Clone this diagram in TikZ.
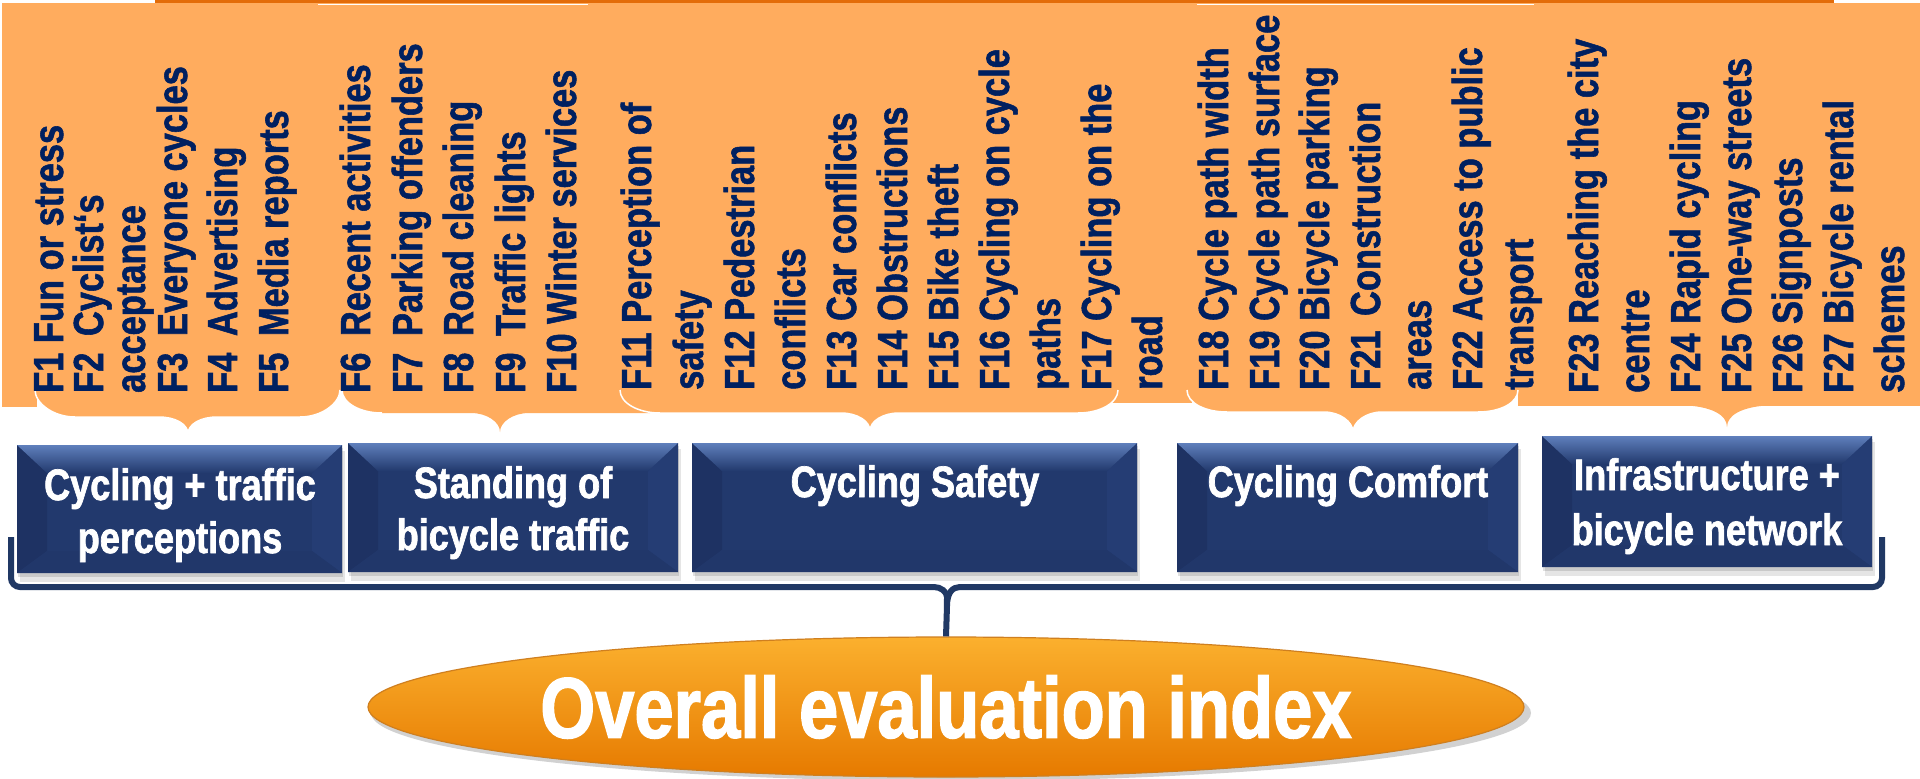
\documentclass[tikz,border=0pt]{standalone}
\usepackage{fontspec}
\newfontfamily\nar{Liberation Sans Bold}[FakeStretch=0.82, FakeBold=1.3]
\newfontfamily\narb{Liberation Sans Bold}[FakeStretch=0.82, FakeBold=1.6]
\usetikzlibrary{shapes.geometric,fit}
\definecolor{orfill}{HTML}{FFAC5E}
\definecolor{ortop}{HTML}{E36C09}
\definecolor{navytext}{HTML}{002060}
\definecolor{boxmain}{HTML}{22396D}
\definecolor{boxtop}{HTML}{5F7FBC}
\definecolor{boxleft}{HTML}{1E3263}
\definecolor{boxright}{HTML}{253D74}
\definecolor{boxbot}{HTML}{21376A}
\definecolor{bracecol}{HTML}{203864}
\definecolor{elltop}{HTML}{FBB02E}
\definecolor{ellmid}{HTML}{F29414}
\definecolor{ellbot}{HTML}{E67A00}
\definecolor{elledge}{HTML}{CF7F1F}
% orange brace: x1 x2 xt ytop ysh ytip
\newcommand\obrace[6]{%
  \path[fill=orfill, draw=white, line width=1.5]
  (#1,#4) .. controls (#1,#4+13) and (#1+18,#5) .. (#1+40,#5)
  -- (#3-29,#5) .. controls (#3-13,#5) and (#3,#6-10) .. (#3,#6)
  .. controls (#3,#6-10) and (#3+13,#5) .. (#3+29,#5)
  -- (#2-40,#5) .. controls (#2-18,#5) and (#2,#4+13) .. (#2,#4);}
% bevelled box: name x1 y1 x2 y2
\newcommand\bevbox[5]{%
  \fill[black,opacity=.10] (#2+3,#3+6) rectangle (#4+3,#5+9);
  \fill[black,opacity=.12] (#2+1,#3+3) rectangle (#4+1,#5+4);
  \node[fit={(#2,#3) (#4,#5)}, inner sep=0, fill=boxmain] (#1) {};
  \fill[boxleft] (#2,#3) -- (#2+30,#3+28) -- (#2+30,#5-22) -- (#2,#5) -- cycle;
  \fill[boxright] (#4,#3) -- (#4-30,#3+28) -- (#4-30,#5-22) -- (#4,#5) -- cycle;
  \fill[boxbot] (#2,#5) -- (#2+30,#5-22) -- (#4-30,#5-22) -- (#4,#5) -- cycle;
  \shade[top color=boxtop, bottom color=boxmain] (#2,#3) -- (#4,#3) -- (#4-30,#3+28) -- (#2+30,#3+28) -- cycle;}
\begin{document}
\begin{tikzpicture}[x=1pt,y=-1pt,
  ftext/.style={rotate=90, anchor=base west, inner sep=0, text=navytext, font=\nar\fontsize{42}{50}\selectfont},
  btext/.style={anchor=base, inner sep=0, text=white, font=\narb\fontsize{44}{53}\selectfont},
  bigbrace/.style={draw=bracecol, line width=6, rounded corners=9}]
\useasboundingbox (0,0) rectangle (1920,779);
\fill[white] (0,0) rectangle (1920,779);
% orange band
\fill[orfill] (2,3) rectangle (1920,391);
\draw[ortop, line width=3] (155,1.5) -- (1834,1.5);
\draw[white, line width=1.5] (318,4.5) -- (588,4.5);
\draw[white, line width=1.5] (1197,4.5) -- (1534,4.5);
\fill[orfill] (2,385) rectangle (37,407);
\fill[orfill] (1110,385) rectangle (1192,403);
\fill[orfill] (1518,385) rectangle (1920,406);
\fill[orfill] (1680,405) .. controls (1712,406) and (1727,415) .. (1727,427)
  .. controls (1727,415) and (1742,406) .. (1774,405) -- cycle;
% braces
\obrace{35}{340}{188}{390}{417}{434}
\fill[orfill] (342,390) .. controls (342,403) and (360,413) .. (382,413)
  -- (471,413) .. controls (487,413) and (500,422) .. (500,432)
  .. controls (500,422) and (513,413) .. (529,413) -- (650,413) -- (650,390) -- cycle;
\draw[white, line width=1.5] (342,390) .. controls (342,403) and (360,413) .. (382,413);
\obrace{620}{1118}{870}{390}{413}{431}
\obrace{1187}{1518}{1353}{390}{412}{432}
% factor texts
\foreach \x/\y/\t [count=\i] in {
  63/393/{F1 Fun or stress},
  103/393/{F2\hspace{7pt} Cyclist‘s},
  145/393/{acceptance},
  187/393/{F3\hspace{7pt} Everyone cycles},
  237/393/{F4\hspace{7pt} Advertising},
  288/393/{F5\hspace{7pt} Media reports},
  370/393/{F6\hspace{7pt} Recent activities},
  422/393/{F7\hspace{7pt} Parking offenders},
  473/393/{F8\hspace{7pt} Road cleaning},
  525/393/{F9\hspace{7pt} Traffic lights},
  576/393/{F10 Winter services},
  651/390/{F11 Perception of},
  703/390/{safety},
  754/390/{F12 Pedestrian},
  805/390/{conflicts},
  856/390/{F13 Car conflicts},
  907/390/{F14 Obstructions},
  958/390/{F15 Bike theft},
  1009/390/{F16 Cycling on cycle},
  1060/390/{paths},
  1111/390/{F17 Cycling on the},
  1162/390/{road},
  1228/390/{F18 Cycle path width},
  1279/390/{F19 Cycle path surface},
  1329/390/{F20 Bicycle parking},
  1380/390/{F21\hspace{5pt} Construction},
  1431/390/{areas},
  1482/390/{F22 Access to public},
  1533/390/{transport},
  1598/393/{F23 Reaching the city},
  1649/393/{centre},
  1700/393/{F24 Rapid cycling},
  1751/393/{F25 One-way streets},
  1802/393/{F26 Signposts},
  1853/393/{F27 Bicycle rental},
  1904/393/{schemes}}
  \node[ftext] (f\i) at (\x,\y) {\t};
% category boxes
\bevbox{c1}{17}{445}{342}{573}
\bevbox{c2}{348}{443}{678}{572}
\bevbox{c3}{692}{443}{1137}{572}
\bevbox{c4}{1177}{443}{1518}{572}
\bevbox{c5}{1542}{436}{1872}{567}
\node[btext] (c1a) at (180,500) {Cycling + traffic};
\node[btext] (c1b) at (180,553) {perceptions};
\node[btext] (c2a) at (513,498) {Standing of};
\node[btext] (c2b) at (513,550) {bicycle traffic};
\node[btext] (c3a) at (915,497) {Cycling Safety};
\node[btext] (c4a) at (1348,497) {Cycling Comfort};
\node[btext] (c5a) at (1707,490) {Infrastructure +};
\node[btext] (c5b) at (1707,545) {bicycle network};
% overall ellipse
\fill[black, opacity=.18] (951,713) ellipse [x radius=580, y radius=68];
\node[ellipse, minimum width=1156, minimum height=140, inner sep=0,
  top color=elltop, middle color=ellmid, bottom color=ellbot,
  draw=elledge, line width=1.2, text=white,
  font=\narb\fontsize{86}{90}\selectfont] (overall) at (946,707) {Overall evaluation index};
% big navy brace
\coordinate (bl) at (11,537);
\coordinate (br) at (1882,537);
\draw[bigbrace] (bl) -- (11,587) -- (925,587) .. controls (941,587) and (947,592) .. (947,606) -- (overall.north);
\draw[bigbrace] (br) -- (1882,587) -- (969,587) .. controls (953,587) and (947,592) .. (947,606);
\end{tikzpicture}
\end{document}
